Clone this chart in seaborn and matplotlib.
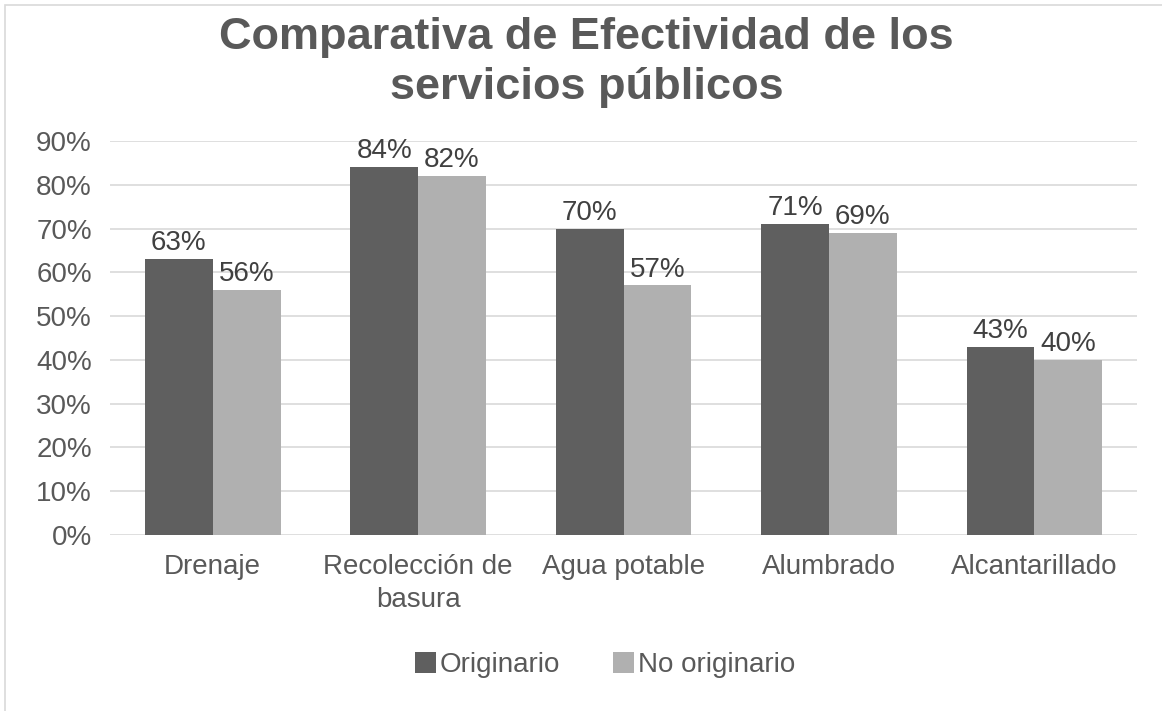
import pandas as pd
import numpy as np
import matplotlib.pyplot as plt
import seaborn as sns
from matplotlib.patches import Rectangle

# data
servicios = ["Drenaje", "Recolección de\nbasura", "Agua potable", "Alumbrado", "Alcantarillado"]
originario = [0.63, 0.84, 0.70, 0.71, 0.43]
no_originario = [0.56, 0.82, 0.57, 0.69, 0.40]
grupos = ["Originario", "No originario"]
yticks = [0, 0.1, 0.2, 0.3, 0.4, 0.5, 0.6, 0.7, 0.8, 0.9]

df = pd.DataFrame({
    "servicio": servicios * 2,
    "valor": originario + no_originario,
    "grupo": [grupos[0]] * 5 + [grupos[1]] * 5,
})

sns.set_style("white")
plt.rcParams['font.family'] = ['Liberation Sans', 'DejaVu Sans']
txt = "#595959"

fig = plt.figure(figsize=(11.62, 7.11), dpi=100)
ax = fig.add_axes([0.0947, 0.2475, 0.8838, 0.5542])

sns.barplot(data=df, x="servicio", y="valor", hue="grupo", order=servicios,
            hue_order=grupos, palette=["#5f5f5f", "#b0b0b0"], width=0.66,
            saturation=1, linewidth=0, ax=ax, legend=True)

for c in ax.containers:
    ax.bar_label(c, labels=["{:.0f}%".format(v * 100) for v in c.datavalues],
                 fontsize=20, color="#404040", padding=2)

ax.set_ylim(0, 0.9)
ax.set_yticks(yticks)
ax.set_yticklabels(["{:.0f}%".format(t * 100) for t in yticks], fontsize=20, color=txt)
ax.tick_params(axis="x", labelsize=20, labelcolor=txt, length=0, pad=14)
ax.tick_params(axis="y", length=0, pad=13)
for t in ax.get_xticklabels():
    t.set_linespacing(1.35)
ax.set_xlabel("")
ax.set_ylabel("")
ax.yaxis.grid(True, color="#d9d9d9", linewidth=1.2)
ax.set_axisbelow(True)
for s in ax.spines.values():
    s.set_visible(False)

leg = ax.legend(loc="center", bbox_to_anchor=(0.482, -0.33), ncol=2, frameon=False,
                fontsize=20, handlelength=0.75, handleheight=0.75, handletextpad=0.15,
                columnspacing=1.9)
for t in leg.get_texts():
    t.set_color(txt)

fig.text(0.505, 0.912, "Comparativa de Efectividad de los\nservicios públicos",
         ha="center", va="center", fontsize=32.5, fontweight="bold", color=txt,
         linespacing=1.3)

# chart area border
fig.patches.append(Rectangle((5 / 1162, -0.1), 1.2, 1 - 5 / 711 + 0.1,
                             transform=fig.transFigure, fill=False,
                             edgecolor="#d9d9d9", linewidth=1.2))

fig.savefig("out.png", dpi=100)
